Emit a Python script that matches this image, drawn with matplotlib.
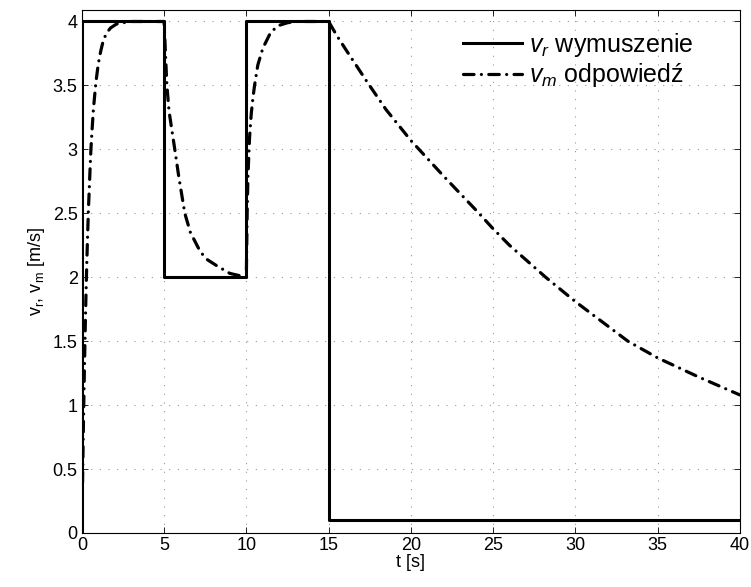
import matplotlib
matplotlib.use('AGG')

import matplotlib.pyplot as plt
from matplotlib.ticker import FormatStrFormatter, MultipleLocator

plt.rcParams['font.family'] = ['Liberation Sans Narrow', 'Liberation Sans', 'DejaVu Sans']
plt.rcParams['mathtext.fontset'] = 'custom'
plt.rcParams['mathtext.it'] = 'Liberation Sans:italic'
plt.rcParams['mathtext.rm'] = 'Liberation Sans'

# v_r: step input (breakpoints and levels)
t_ref = [0, 0, 5, 5, 10, 10, 15, 15, 40]
v_ref = [0, 4, 4, 2, 2, 4, 4, 0.1, 0.1]

# v_m: response, values
t_resp = [0, 0.05, 0.1, 0.15, 0.2, 0.25, 0.3, 0.35, 0.4, 0.5, 0.55, 0.6, 0.7,
          0.85, 1.0, 1.15, 1.3, 1.5, 1.75, 2.1, 2.5, 3.0, 5.0,
          5.05, 5.1, 5.17, 5.3, 5.45, 5.65, 5.9, 6.26, 6.6, 7.0, 7.2, 7.6,
          8.2, 9.0, 10.0,
          10.05, 10.1, 10.2, 10.3, 10.4, 10.5, 10.7, 11.0, 11.5, 12.0, 12.5,
          13.0, 15.0,
          15.5, 16.0, 17.33, 18.5, 20.0, 22.0, 24.0, 25.0, 26.0, 28.2, 30.0,
          33.2, 35.0, 37.5, 40.0]
v_resp = [0, 0.47, 0.89, 1.25, 1.57, 1.86, 2.11, 2.33, 2.53, 2.85, 3.0, 3.11,
          3.31, 3.52, 3.67, 3.77, 3.85, 3.91, 3.95, 3.98, 3.99, 4.0, 4.0,
          3.85, 3.7, 3.5, 3.3, 3.17, 3.0, 2.78, 2.5, 2.35, 2.25, 2.2, 2.14,
          2.09, 2.03, 2.0,
          2.5, 2.8, 3.1, 3.28, 3.4, 3.5, 3.66, 3.79, 3.92, 3.97, 3.99,
          4.0, 4.0,
          3.89, 3.79, 3.53, 3.31, 3.07, 2.79, 2.52, 2.38, 2.25, 2.0, 1.81,
          1.5, 1.37, 1.22, 1.08]

fig = plt.figure(figsize=(7.51, 5.87), dpi=100)
ax = fig.add_axes([0.109, 0.092, 0.876, 0.891])

ax.plot(t_ref, v_ref, color='black', lw=2.2, label=r'$v_r$ wymuszenie')
ax.plot(t_resp, v_resp, color='black', lw=2.3, dashes=(3.3, 2.3, 0.01, 2.3),
        dash_capstyle='round', label=r'$v_m$ odpowiedź')

ax.set_xlim(0, 40)
ax.set_ylim(0, 4.09)
ax.xaxis.set_major_locator(MultipleLocator(5))
ax.yaxis.set_major_locator(MultipleLocator(0.5))
ax.yaxis.set_major_formatter(FormatStrFormatter('%g'))
ax.tick_params(direction='in', top=True, right=True, labelsize=13, length=4,
               width=0.6, pad=3)
ax.grid(True, linestyle=(0, (1, 6.8)), color='#999999', lw=0.8)
for s in ax.spines.values():
    s.set_linewidth(0.8)

ax.set_xlabel('t [s]', fontsize=13, labelpad=0)
ax.set_ylabel(r'v$_\mathrm{r}$, v$_\mathrm{m}$ [m/s]', fontsize=13, labelpad=4)

leg = ax.legend(loc='upper right', bbox_to_anchor=(0.93, 0.96), frameon=False,
                handlelength=2.35, labelspacing=0.1, handletextpad=0.3,
                borderaxespad=0.0, borderpad=0.0,
                prop={'family': 'Liberation Sans', 'size': 18})

fig.savefig('out.png', dpi=100)
